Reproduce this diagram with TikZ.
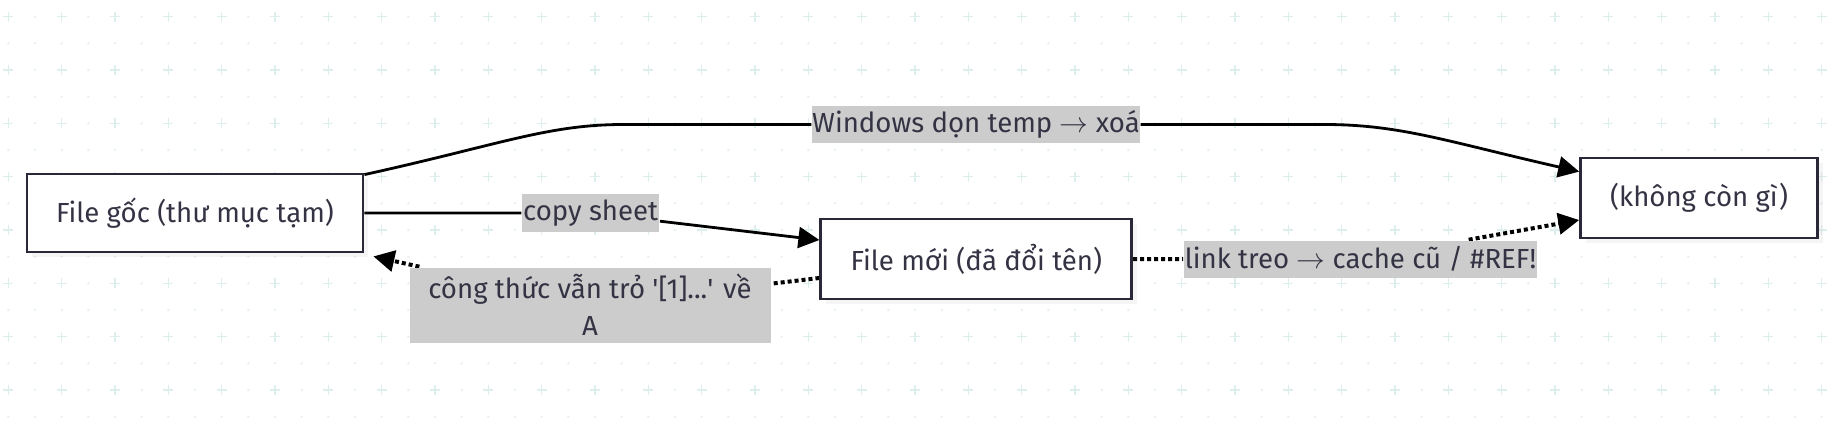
\documentclass[tikz,border=0pt]{standalone}
\usepackage{fontspec}
\setmainfont{Fira Sans}
\usepackage{tikz}
\usetikzlibrary{arrows.meta,shapes,positioning,shadows,backgrounds}
\usepackage{xcolor}
\definecolor{ink}{HTML}{2A2838}
\definecolor{txt}{HTML}{333344}
\definecolor{lblgray}{HTML}{CCCCCC}
\definecolor{gridplus}{HTML}{DDEFEC}
\definecolor{griddot}{HTML}{E6F1F0}

\begin{document}
\begin{tikzpicture}[>={Triangle[length=10.5pt,width=10.5pt]},align=center,
					thick,main node/.style={draw=ink,line width=1.4pt,fill=white,text=txt,
						inner sep=0pt,minimum height=39pt,font=\fontsize{13.8pt}{18.5pt}\selectfont,
						drop shadow={shadow xshift=2.5pt,shadow yshift=-2.5pt,opacity=0.08}},
					lbl node/.style={fill=lblgray,text=txt,inner sep=0pt,minimum height=18.5pt,
						font=\fontsize{13.8pt}{18.5pt}\selectfont},
					flow/.style={->,line width=1.4pt},
					ref/.style={->,line width=2pt,dash pattern=on 2pt off 1.5pt}]
					
					\useasboundingbox (-97.5pt,106.5pt) rectangle (824pt,-114pt);
					
					% dotted grid behind everything
					\begin{scope}[on background layer]
					\foreach \i in {0,...,68}
					\foreach \j in {0,...,15}
					\fill[griddot] ({-93.33pt+\i*13.333pt},{98.17pt-\j*13.333pt}) circle (0.7pt);
					\foreach \i in {0,2,...,68}
					\foreach \j in {0,2,...,14}
					\draw[gridplus,line width=0.6pt] ({-93.33pt+\i*13.333pt},{98.17pt-\j*13.333pt})
						+(-2.5pt,0) -- +(2.5pt,0) +(0,-2.5pt) -- +(0,2.5pt);
					\end{scope}
					
					\node[main node,minimum width=168pt] (1) {File gốc (thư mục tạm)};
					\node[main node,minimum width=155.5pt,minimum height=40pt] (2) [right=227.5pt of 1,yshift=-23pt] {File mới (đã đổi tên)};
					\node[main node,minimum width=118.5pt,minimum height=40pt] (3) [right=223pt of 2,yshift=30.5pt] {(không còn gì)};
					
					\node[lbl node,minimum width=161pt] (4) at (390.5pt,44.25pt) {Windows dọn temp $\rightarrow$ xoá};
					\node[lbl node,minimum width=68.5pt,minimum height=19pt] (5) [right=78.5pt of 1] {copy sheet};
					\node[lbl node,minimum width=180.5pt,minimum height=37.5pt] (6) at (197.5pt,-46pt) {công thức vẫn trỏ \textquotesingle[1]...\textquotesingle{} về\\A};
					\node[lbl node,minimum width=176.5pt] (7) [right=25pt of 2] {link treo $\rightarrow$ cache cũ / \#REF!};
					
					\begin{scope}[on background layer]
					\draw[flow] ([yshift=-1pt]1.north east) .. controls +(68pt,15pt) and +(-38pt,0pt) .. ([xshift=-94pt]4.west) -- (4.west)
						(4.east) -- ([xshift=92pt]4.east) .. controls +(38pt,0pt) and +(-66pt,15pt) .. ([yshift=-7.5pt]3.north west);
					\draw[flow] (1.east) -- (5) -- ([yshift=9.5pt]2.west);
					\draw[ref] ([yshift=-9.5pt]2.west) -- (6) -- ([xshift=4.5pt,yshift=-1.5pt]1.south east);
					\draw[ref] (2.east) -- (7) -- ([yshift=-11pt]3.west);
					\end{scope}
					
				\end{tikzpicture}
\end{document}
